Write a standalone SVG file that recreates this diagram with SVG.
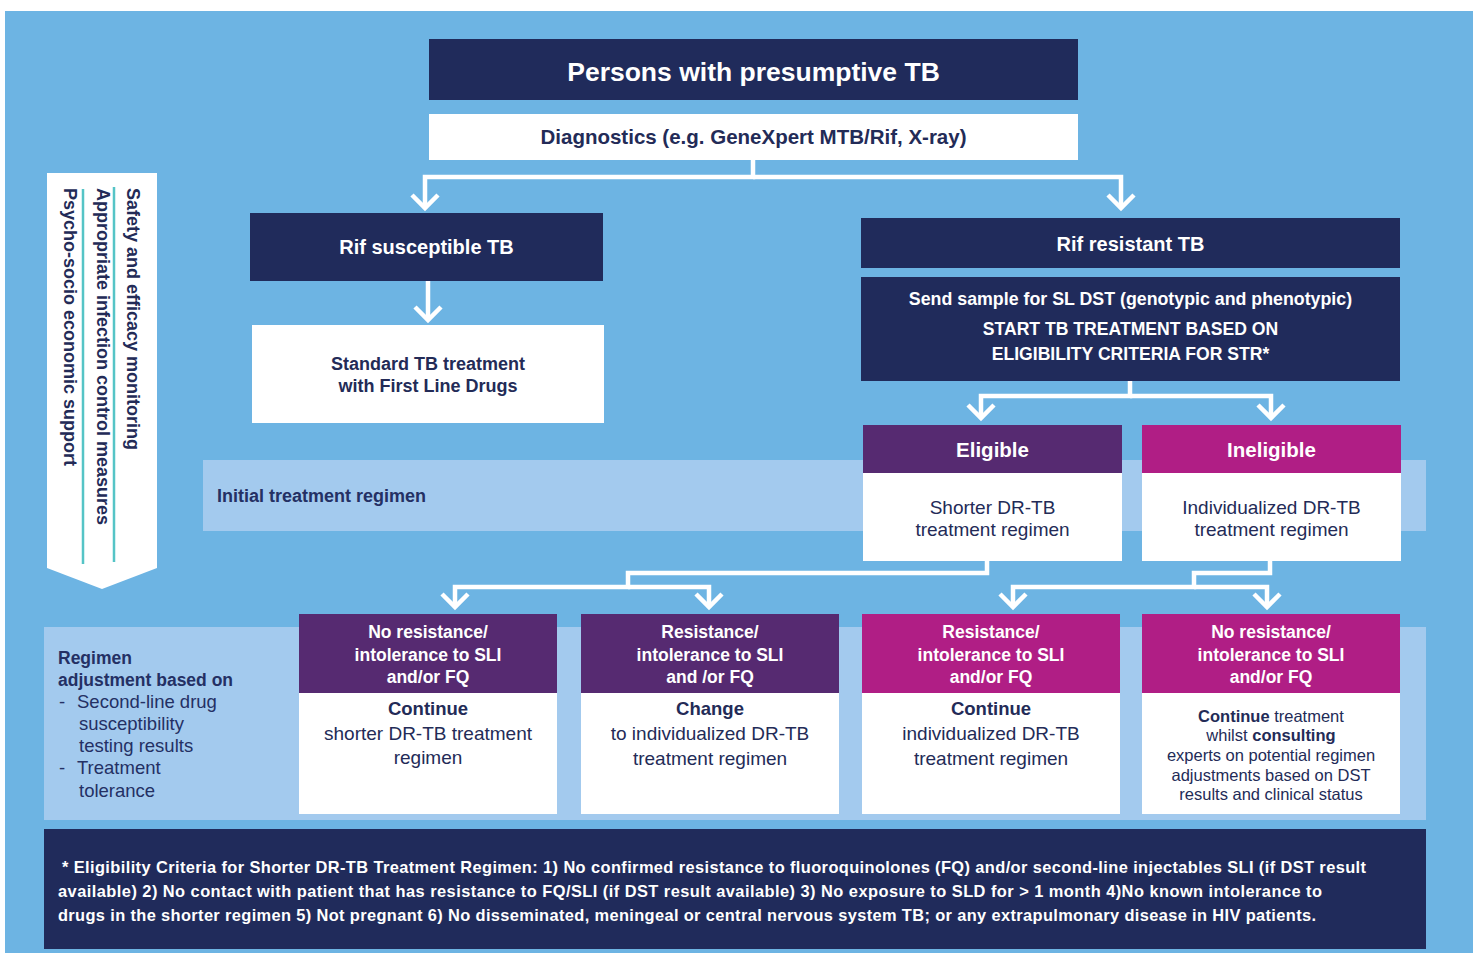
<svg xmlns="http://www.w3.org/2000/svg" width="1478" height="953" viewBox="0 0 1478 953">
<style>
text{font-family:"Liberation Sans",Arial,sans-serif}
.navy{fill:#202b5b}
.white{fill:#ffffff}
.band{fill:#a3caee}
.purple{fill:#562a71}
.magenta{fill:#b01e85}
.tw{fill:#ffffff;font-weight:bold;text-anchor:middle}
.tb{fill:#232b57;text-anchor:middle}
.b{font-weight:bold}
.conn{fill:none;stroke:#ffffff;stroke-width:4.5;stroke-linejoin:miter}
.teal{stroke:#55c4c6;stroke-width:2.5}
.vt{fill:#232b57;font-weight:bold;font-size:18px}
.lt{fill:#243064}
.ft{fill:#ffffff;font-weight:bold;font-size:16.4px}
</style>
<defs>
<marker id="chev" markerUnits="userSpaceOnUse" viewBox="-20 -20 40 40" markerWidth="40" markerHeight="40" refX="0" refY="0" orient="auto">
<path d="M-13,-13 L0,0 L-13,13" fill="none" stroke="#ffffff" stroke-width="4.5" stroke-linejoin="miter"/>
</marker>
</defs>
<rect x="5" y="11" width="1468" height="942" fill="#6db4e3"/>
<rect x="203" y="460" width="1223" height="71" class="band"/>
<rect x="44" y="627" width="1382" height="193" class="band"/>

<g id="support-arrow">
<polygon points="47,173 157,173 157,568 102,589 47,568" fill="#ffffff"/>
<line x1="114" y1="187" x2="114" y2="562" class="teal"/>
<line x1="83" y1="189" x2="83" y2="564" class="teal"/>
<text class="vt" transform="translate(127,188) rotate(90)">Safety and efficacy monitoring</text>
<text class="vt" transform="translate(97,188) rotate(90)">Appropriate infection control measures</text>
<text class="vt" transform="translate(64,188) rotate(90)" font-size="17.6">Psycho-socio economic support</text>
</g>

<g id="connectors">
<path class="conn" d="M753,160 V177 H425 V208" marker-end="url(#chev)"/>
<path class="conn" d="M753,177 H1121 V208" marker-end="url(#chev)"/>
<path class="conn" d="M428,281 V320" marker-end="url(#chev)"/>
<path class="conn" d="M1130,381 V396 H981 V418" marker-end="url(#chev)"/>
<path class="conn" d="M1130,396 H1271 V418" marker-end="url(#chev)"/>
<path class="conn" d="M987,561 V573 H628 V587 H455 V607" marker-end="url(#chev)"/>
<path class="conn" d="M628,587 H709 V607" marker-end="url(#chev)"/>
<path class="conn" d="M1270,561 V573 H1194 V587 H1013 V607" marker-end="url(#chev)"/>
<path class="conn" d="M1194,587 H1267 V607" marker-end="url(#chev)"/>
</g>

<g id="persons">
<rect x="429" y="39" width="649" height="61" class="navy"/>
<text x="753.5" y="81" class="tw" font-size="26.5">Persons with presumptive TB</text>
</g>
<g id="diagnostics">
<rect x="429" y="114" width="649" height="46" class="white"/>
<text x="753.5" y="144" class="tb b" font-size="20.5">Diagnostics (e.g. GeneXpert MTB/Rif, X-ray)</text>
</g>
<g id="rif-susceptible">
<rect x="250" y="213" width="353" height="68" class="navy"/>
<text x="426.5" y="254" class="tw" font-size="20">Rif susceptible TB</text>
</g>
<g id="standard-treatment">
<rect x="252" y="325" width="352" height="98" class="white"/>
<text x="428" y="370" class="tb b" font-size="18">Standard TB treatment</text>
<text x="428" y="392" class="tb b" font-size="18">with First Line Drugs</text>
</g>
<g id="rif-resistant">
<rect x="861" y="218" width="539" height="50" class="navy"/>
<text x="1130.5" y="251" class="tw" font-size="20">Rif resistant TB</text>
</g>
<g id="send-sample">
<rect x="861" y="277" width="539" height="104" class="navy"/>
<text x="1130.5" y="305" class="tw" font-size="17.8">Send sample for SL DST (genotypic and phenotypic)</text>
<text x="1130.5" y="335" class="tw" font-size="17.6">START TB TREATMENT BASED ON</text>
<text x="1130.5" y="360" class="tw" font-size="17.6">ELIGIBILITY CRITERIA FOR STR*</text>
</g>

<g id="initial-label">
<text x="217" y="502" class="lt b" font-size="18">Initial treatment regimen</text>
</g>

<g id="eligible">
<rect x="863" y="425" width="259" height="48" class="purple"/>
<rect x="863" y="473" width="259" height="88" class="white"/>
<text x="992.5" y="457" class="tw" font-size="20.5">Eligible</text>
<text x="992.5" y="514" class="tb" font-size="19">Shorter DR-TB</text>
<text x="992.5" y="536" class="tb" font-size="19">treatment regimen</text>
</g>
<g id="ineligible">
<rect x="1142" y="425" width="259" height="48" class="magenta"/>
<rect x="1142" y="473" width="259" height="88" class="white"/>
<text x="1271.5" y="457" class="tw" font-size="20.5">Ineligible</text>
<text x="1271.5" y="514" class="tb" font-size="19">Individualized DR-TB</text>
<text x="1271.5" y="536" class="tb" font-size="19">treatment regimen</text>
</g>

<g id="adjustment-label">
<text x="58" y="664" class="lt b" font-size="17.5">Regimen</text>
<text x="58" y="686" class="lt b" font-size="17.5">adjustment based on</text>
<text x="59" y="708" class="lt" font-size="18.5">-</text>
<text x="77" y="708" class="lt" font-size="18.5">Second-line drug</text>
<text x="79" y="730" class="lt" font-size="18.5">susceptibility</text>
<text x="79" y="752" class="lt" font-size="18.5">testing results</text>
<text x="59" y="774" class="lt" font-size="18.5">-</text>
<text x="77" y="774" class="lt" font-size="18.5">Treatment</text>
<text x="79" y="797" class="lt" font-size="18.5">tolerance</text>
</g>

<g id="box-continue-shorter">
<rect x="299" y="614" width="258" height="79" class="purple"/>
<rect x="299" y="693" width="258" height="121" class="white"/>
<text x="428" y="638" class="tw" font-size="17.5">No resistance/</text>
<text x="428" y="661" class="tw" font-size="17.5">intolerance to SLI</text>
<text x="428" y="683" class="tw" font-size="17.5">and/or FQ</text>
<text x="428" y="715" class="tb b" font-size="18.5">Continue</text>
<text x="428" y="740" class="tb" font-size="19">shorter DR-TB treatment</text>
<text x="428" y="764" class="tb" font-size="19">regimen</text>
</g>
<g id="box-change">
<rect x="581" y="614" width="258" height="79" class="purple"/>
<rect x="581" y="693" width="258" height="121" class="white"/>
<text x="710" y="638" class="tw" font-size="17.5">Resistance/</text>
<text x="710" y="661" class="tw" font-size="17.5">intolerance to SLI</text>
<text x="710" y="683" class="tw" font-size="17.5">and /or FQ</text>
<text x="710" y="715" class="tb b" font-size="18.5">Change</text>
<text x="710" y="740" class="tb" font-size="19">to individualized DR-TB</text>
<text x="710" y="765" class="tb" font-size="19">treatment regimen</text>
</g>
<g id="box-continue-individualized">
<rect x="862" y="614" width="258" height="79" class="magenta"/>
<rect x="862" y="693" width="258" height="121" class="white"/>
<text x="991" y="638" class="tw" font-size="17.5">Resistance/</text>
<text x="991" y="661" class="tw" font-size="17.5">intolerance to SLI</text>
<text x="991" y="683" class="tw" font-size="17.5">and/or FQ</text>
<text x="991" y="715" class="tb b" font-size="18.5">Continue</text>
<text x="991" y="740" class="tb" font-size="19">individualized DR-TB</text>
<text x="991" y="765" class="tb" font-size="19">treatment regimen</text>
</g>
<g id="box-consult">
<rect x="1142" y="614" width="258" height="79" class="magenta"/>
<rect x="1142" y="693" width="258" height="121" class="white"/>
<text x="1271" y="638" class="tw" font-size="17.5">No resistance/</text>
<text x="1271" y="661" class="tw" font-size="17.5">intolerance to SLI</text>
<text x="1271" y="683" class="tw" font-size="17.5">and/or FQ</text>
<text x="1271" y="722" class="tb" font-size="16.5"><tspan font-weight="bold">Continue</tspan> treatment</text>
<text x="1271" y="741" class="tb" font-size="16.5">whilst <tspan font-weight="bold">consulting</tspan></text>
<text x="1271" y="761" class="tb" font-size="16.5">experts on potential regimen</text>
<text x="1271" y="781" class="tb" font-size="16.5">adjustments based on DST</text>
<text x="1271" y="800" class="tb" font-size="16.5">results and clinical status</text>
</g>

<g id="footnote">
<rect x="44" y="829" width="1382" height="120" class="navy"/>
<text x="62" y="873" class="ft" textLength="1304" lengthAdjust="spacing">* Eligibility Criteria for Shorter DR-TB Treatment Regimen: 1) No confirmed resistance to fluoroquinolones (FQ) and/or second-line injectables SLI (if DST result</text>
<text x="58" y="897" class="ft" textLength="1264" lengthAdjust="spacing">available) 2) No contact with patient that has resistance to FQ/SLI (if DST result available) 3) No exposure to SLD for &gt; 1 month 4)No known intolerance to</text>
<text x="58" y="921" class="ft" textLength="1258" lengthAdjust="spacing">drugs in the shorter regimen 5) Not pregnant 6) No disseminated, meningeal or central nervous system TB; or any extrapulmonary disease in HIV patients.</text>
</g>
</svg>
